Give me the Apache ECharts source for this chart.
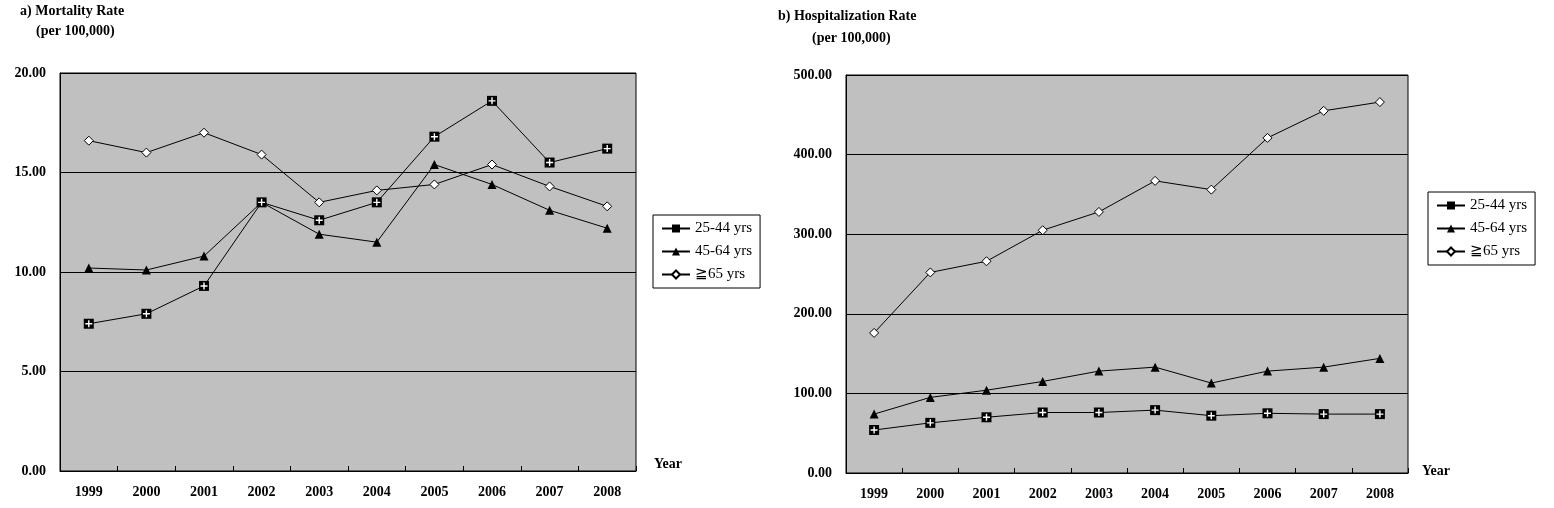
<!DOCTYPE html>
<html><head><meta charset="utf-8">
<script src="https://cdn.jsdelivr.net/npm/echarts@6/dist/echarts.min.js"></script>
<style>html,body{margin:0;background:#fff}#c{width:1554px;height:508px}</style></head>
<body><div id="c"></div>
<script>
const years=['1999','2000','2001','2002','2003','2004','2005','2006','2007','2008'];
const mort2544=[7.4,7.9,9.3,13.5,12.6,13.5,16.8,18.6,15.5,16.2];
const mort4564=[10.2,10.1,10.8,13.5,11.9,11.5,15.4,14.4,13.1,12.2];
const mort65=[16.6,16.0,17.0,15.9,13.5,14.1,14.4,15.4,14.3,13.3];
const hosp2544=[54,63,70,76,76,79,72,75,74,74];
const hosp4564=[74,95,104,115,128,133,113,128,133,144];
const hosp65=[176,252,266,305,328,367,356,421,455,466];
const names=['25-44 yrs','45-64 yrs','≧65 yrs'];
const F='Liberation Serif';
const plus='path://M4,0H6V4H10V6H6V10H4V6H0V4H4Z';
function ser(idx,d){
  const base={type:'line',xAxisIndex:idx,yAxisIndex:idx,data:d,lineStyle:{color:'#000',width:1},itemStyle:{color:'#000'},symbolSize:9};
  return base;
}
function group(idx,a,b,c){
  return [
    Object.assign(ser(idx,a),{name:names[0],symbol:'rect',symbolSize:10}),
    {type:'line',xAxisIndex:idx,yAxisIndex:idx,data:a,symbol:plus,symbolSize:7,lineStyle:{opacity:0},itemStyle:{color:'#fff'},silent:true,z:5},
    Object.assign(ser(idx,b),{name:names[1],symbol:'triangle',symbolSize:9}),
    Object.assign(ser(idx,c),{name:names[2],symbol:'diamond',symbolSize:9,itemStyle:{color:'#fff',borderColor:'#000',borderWidth:1}})
  ];
}
const axLab={fontFamily:F,fontWeight:'bold',fontSize:14,color:'#000'};
function xa(i){return {type:'category',gridIndex:i,data:years,boundaryGap:true,axisLine:{lineStyle:{color:'#000'}},axisTick:{show:true,inside:true,alignWithLabel:false,lineStyle:{color:'#000'}},axisLabel:Object.assign({margin:14},axLab)};}
function ya(i,max,int){return {type:'value',gridIndex:i,min:0,max:max,interval:int,axisLine:{show:true,lineStyle:{color:'#000'}},axisTick:{show:true,inside:true,lineStyle:{color:'#000'}},splitLine:{lineStyle:{color:'#000',width:1}},axisLabel:Object.assign({formatter:v=>v.toFixed(2),margin:14},axLab)};}
const legBase={orient:'vertical',backgroundColor:'#fff',borderColor:'#000',borderWidth:1,padding:[6,8],itemGap:8,itemWidth:28,itemHeight:10,textStyle:{fontFamily:F,fontSize:15,color:'#000'},data:names};
const chart=echarts.init(document.getElementById('c'));
chart.setOption({
  animation:false,
  grid:[{left:60,top:73,width:576,height:398,show:true,backgroundColor:'#c0c0c0',borderColor:'#000',borderWidth:1},
        {left:846,top:75,width:562,height:398,show:true,backgroundColor:'#c0c0c0',borderColor:'#000',borderWidth:1}],
  xAxis:[xa(0),xa(1)],
  yAxis:[ya(0,20,5),ya(1,500,100)],
  legend:[Object.assign({left:653,top:215},legBase),Object.assign({left:1428,top:192},legBase)],
  series:[...group(0,mort2544,mort4564,mort65),...group(1,hosp2544,hosp4564,hosp65)],
  graphic:[
    {type:'text',left:20,top:4,style:{text:'a) Mortality Rate',font:'bold 14px "Liberation Serif"',fill:'#000'}},
    {type:'text',left:36,top:24,style:{text:'(per 100,000)',font:'bold 14px "Liberation Serif"',fill:'#000'}},
    {type:'text',left:778,top:9,style:{text:'b) Hospitalization Rate',font:'bold 14px "Liberation Serif"',fill:'#000'}},
    {type:'text',left:812,top:31,style:{text:'(per 100,000)',font:'bold 14px "Liberation Serif"',fill:'#000'}},
    {type:'text',left:654,top:457,style:{text:'Year',font:'bold 14px "Liberation Serif"',fill:'#000'}},
    {type:'text',left:1422,top:464,style:{text:'Year',font:'bold 14px "Liberation Serif"',fill:'#000'}}
  ]
});
</script></body></html>
